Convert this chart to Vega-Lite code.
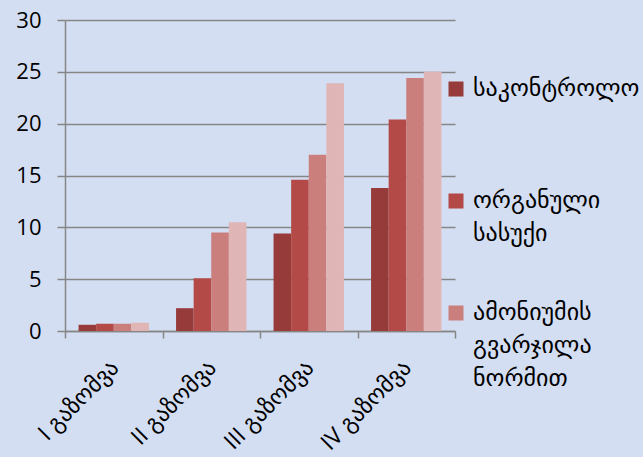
{
  "$schema": "https://vega.github.io/schema/vega-lite/v6.json",
  "width": 390,
  "height": 311,
  "autosize": "none",
  "padding": {"left": 65, "top": 20, "right": 188, "bottom": 126},
  "background": "#D4DEF2",
  "data": {"values": [
    {"m": "I გაზომვა", "s": "საკონტროლო", "o": 1, "v": 0.6},
    {"m": "I გაზომვა", "s": "ორგანული სასუქი", "o": 2, "v": 0.7},
    {"m": "I გაზომვა", "s": "ამონიუმის გვარჯილა ნორმით", "o": 3, "v": 0.7},
    {"m": "I გაზომვა", "s": "ამონიუმის გვარჯილა ორმაგი ნორმით", "o": 4, "v": 0.8},
    {"m": "II გაზომვა", "s": "საკონტროლო", "o": 1, "v": 2.2},
    {"m": "II გაზომვა", "s": "ორგანული სასუქი", "o": 2, "v": 5.1},
    {"m": "II გაზომვა", "s": "ამონიუმის გვარჯილა ნორმით", "o": 3, "v": 9.5},
    {"m": "II გაზომვა", "s": "ამონიუმის გვარჯილა ორმაგი ნორმით", "o": 4, "v": 10.5},
    {"m": "III გაზომვა", "s": "საკონტროლო", "o": 1, "v": 9.4},
    {"m": "III გაზომვა", "s": "ორგანული სასუქი", "o": 2, "v": 14.6},
    {"m": "III გაზომვა", "s": "ამონიუმის გვარჯილა ნორმით", "o": 3, "v": 17.0},
    {"m": "III გაზომვა", "s": "ამონიუმის გვარჯილა ორმაგი ნორმით", "o": 4, "v": 23.9},
    {"m": "IV გაზომვა", "s": "საკონტროლო", "o": 1, "v": 13.8},
    {"m": "IV გაზომვა", "s": "ორგანული სასუქი", "o": 2, "v": 20.4},
    {"m": "IV გაზომვა", "s": "ამონიუმის გვარჯილა ნორმით", "o": 3, "v": 24.4},
    {"m": "IV გაზომვა", "s": "ამონიუმის გვარჯილა ორმაგი ნორმით", "o": 4, "v": 25.0}
  ]},
  "mark": {"type": "bar", "stroke": null},
  "encoding": {
    "x": {
      "field": "m", "type": "nominal", "sort": null,
      "scale": {"paddingInner": 0, "paddingOuter": 0},
      "axis": {
        "title": null, "labelAngle": -45, "labelFontSize": 23, "labelPadding": 18,
        "labelOffset": -7,
        "labelFont": "Open Sans, DejaVu Sans", "labelColor": "#000000",
        "tickBand": "extent", "domainColor": "#868686", "tickColor": "#868686",
        "tickSize": 7, "domainWidth": 1.5, "tickWidth": 1.5, "grid": false
      }
    },
    "xOffset": {
      "field": "s", "type": "nominal", "sort": {"field": "o"},
      "scale": {"paddingInner": 0, "paddingOuter": 0.77}
    },
    "y": {
      "field": "v", "type": "quantitative",
      "scale": {"domain": [0, 30], "nice": false},
      "axis": {
        "title": null, "values": [0, 5, 10, 15, 20, 25, 30], "labelFontSize": 22,
        "labelFont": "Open Sans", "labelColor": "#000000", "labelPadding": 16,
        "tickSize": 8, "tickColor": "#868686", "tickWidth": 1.5,
        "domainColor": "#868686", "domainWidth": 1.5,
        "grid": true, "gridColor": "#868686", "gridWidth": 1.5
      }
    },
    "color": {
      "field": "s", "type": "nominal", "sort": {"field": "o"},
      "scale": {
        "domain": ["საკონტროლო", "ორგანული სასუქი", "ამონიუმის გვარჯილა ნორმით", "ამონიუმის გვარჯილა ორმაგი ნორმით"],
        "range": ["#963B3A", "#B44A47", "#CA7F7D", "#DFB5B5"]
      },
      "legend": {
        "title": null,
        "values": ["საკონტროლო", "ორგანული სასუქი", "ამონიუმის გვარჯილა ნორმით"],
        "orient": "none", "legendX": 379, "legendY": 45,
        "labelExpr": "datum.label == 'საკონტროლო' ? ['საკონტროლო', '', ''] : datum.label == 'ორგანული სასუქი' ? ['ორგანული', 'სასუქი', ''] : ['ამონიუმის', 'გვარჯილა', 'ნორმით']",
        "labelFontSize": 24, "labelFont": "DejaVu Sans", "labelColor": "#000000",
        "labelLimit": 300, "labelOffset": 5, "labelBaseline": "top",
        "symbolType": "M-1,0.6H1V2.6H-1Z", "symbolSize": 225, "symbolStrokeWidth": 0, "symbolOpacity": 1,
        "rowPadding": 10, "padding": 0
      }
    }
  },
  "config": {"view": {"stroke": null}, "style": {"guide-label": {"lineHeight": 33}}}
}
